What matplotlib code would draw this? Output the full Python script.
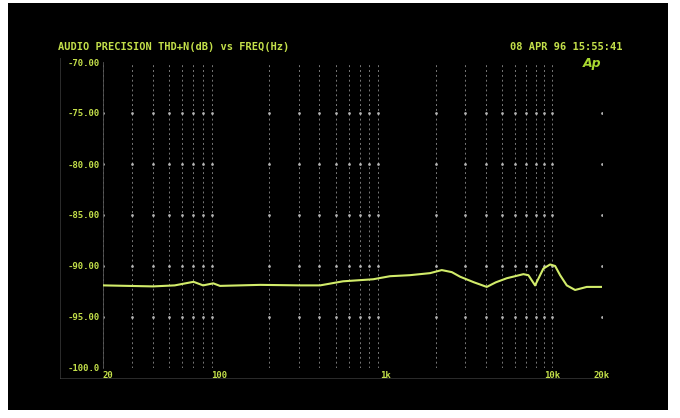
import matplotlib.pyplot as plt
import numpy as np
from matplotlib.patches import Rectangle

# THD+N sweep
freq_hz = [20, 40, 54, 70, 80, 92, 101, 176, 306, 404, 555, 842, 1064,
           1400, 1850, 2176, 2500, 2804, 3400, 4058, 4600, 5353, 6735, 7218,
           7920, 8886, 9750, 10450, 11200, 12280, 13780, 16200, 20000]
thdn_db = [-91.9, -92.0, -91.9, -91.55, -91.9, -91.7, -91.95, -91.85, -91.9,
           -91.9, -91.5, -91.3, -91.0, -90.9, -90.7, -90.4, -90.6, -91.05,
           -91.6, -92.05, -91.6, -91.2, -90.8, -90.9, -91.9, -90.25, -89.85,
           -90.0, -90.9, -91.9, -92.35, -92.05, -92.05]

y_ticks = [-70, -75, -80, -85, -90, -95, -100]
y_labels = ["-70.00", "-75.00", "-80.00", "-85.00", "-90.00", "-95.00", "-100.0"]
x_ticks = [20, 100, 1000, 10000, 20000]
x_labels = ["20", "100", "1k", "10k", "20k"]
grid_freqs = [f * m for m in (10, 100, 1000) for f in range(2, 10)] + [10000, 20000]
grid_freqs = [f for f in grid_freqs if 20 <= f <= 20000]

title = "AUDIO PRECISION THD+N(dB) vs FREQ(Hz)"
stamp = "08 APR 96 15:55:41"

txt = "#c4e04a"
trace = "#d2ec6a"
mono = "DejaVu Sans Mono"

fig = plt.figure(figsize=(6.8, 4.18), dpi=100, facecolor="white")
# black CRT panel
fig.patches.append(Rectangle((8 / 680, 1 - 410 / 418), 660 / 680, 407 / 418,
                             transform=fig.transFigure, facecolor="black",
                             edgecolor="none", zorder=-5))
# faint outer frame on the screen
fig.add_artist(plt.Line2D([60 / 680, 60 / 680], [1 - 378 / 418, 1 - 58 / 418],
                          color="#555555", lw=0.6, alpha=0.6))
fig.add_artist(plt.Line2D([60 / 680, 605 / 680], [1 - 378 / 418, 1 - 378 / 418],
                          color="#555555", lw=0.6, alpha=0.6))

ax = fig.add_axes([103 / 680, 1 - 368 / 418, 499 / 680, 306 / 418])
ax.set_facecolor("black")
ax.patch.set_alpha(0)
ax.set_xscale("log")
ax.set_xlim(20, 20000)
ax.set_ylim(-100, -70)

for f in grid_freqs:
    ax.axvline(f, color="#a0a0a0", lw=0.7, ls=(0, (2, 3)), alpha=0.75, zorder=1)
gx, gy = np.meshgrid(grid_freqs, y_ticks[1:-1])
ax.scatter(gx.ravel(), gy.ravel(), s=4, color="#d0d0d0", alpha=0.85, zorder=1,
           linewidths=0)

ax.plot(freq_hz, thdn_db, color=trace, lw=1.5, zorder=3,
        solid_joinstyle="round")

for s in ["top", "right", "bottom"]:
    ax.spines[s].set_visible(False)
ax.spines["left"].set_color("#555555")
ax.spines["left"].set_linewidth(0.6)

ax.set_yticks(y_ticks)
ax.set_yticklabels(y_labels)
ax.set_xticks(x_ticks)
ax.set_xticklabels(x_labels)
ax.minorticks_off()
ax.tick_params(length=0, colors=txt, labelsize=6.5, pad=2)
for lab in ax.get_xticklabels() + ax.get_yticklabels():
    lab.set_family(mono)
    lab.set_fontweight("bold")
ax.get_xticklabels()[0].set_horizontalalignment("left")

fig.text(58 / 680, 1 - 47 / 418, title, color=txt, fontsize=7.5, family=mono,
         fontweight="bold", va="center", ha="left")
fig.text(622 / 680, 1 - 47 / 418, stamp, color=txt, fontsize=7.5, family=mono,
         fontweight="bold", va="center", ha="right")
fig.text(592 / 680, 1 - 64 / 418, "Ap", color="#a8d830", fontsize=9,
         fontstyle="italic", fontweight="bold", va="center", ha="center")

fig.savefig("out.png", dpi=100, facecolor="white")
